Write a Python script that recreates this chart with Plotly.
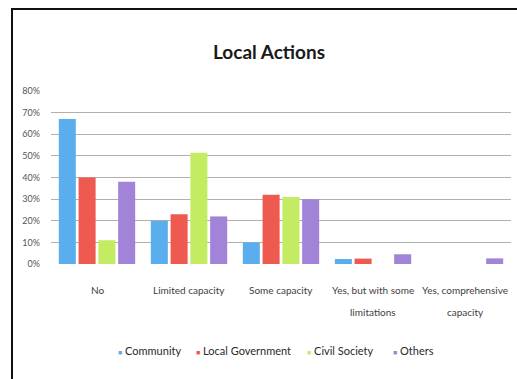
import plotly.graph_objects as go

# Survey responses by actor type
categories = ["No", "Limited capacity", "Some capacity",
              "Yes, but with some<br>limitations", "Yes, comprehensive<br>capacity"]
community = [0.67, 0.20, 0.10, 0.023, 0.0]
local_government = [0.40, 0.23, 0.32, 0.025, 0.0]
civil_society = [0.11, 0.515, 0.31, 0.0, 0.0]
others = [0.38, 0.22, 0.30, 0.045, 0.026]
y_ticks = [0, 0.1, 0.2, 0.3, 0.4, 0.5, 0.6, 0.7, 0.8]

series = [
    ("Community", community, "#5aaeee"),
    ("Local Government", local_government, "#ee5a50"),
    ("Civil Society", civil_society, "#c4ec62"),
    ("Others", others, "#a183d8"),
]

FONT = "Lato, Open Sans, sans-serif"

fig = go.Figure()
for name, vals, color in series:
    fig.add_trace(go.Bar(x=categories, y=vals, name=name, showlegend=False,
                         marker=dict(color=color, line=dict(width=0))))

W, H = 517, 379
L, R, T, B = 51, 6, 91, 115
pw, ph = W - L - R, H - T - B

def px_x(p):
    return (p - L) / pw

def px_y(p):
    return (H - B - p) / ph

fig.update_layout(
    width=W, height=H,
    margin=dict(l=L, r=R, t=T, b=B),
    paper_bgcolor="white", plot_bgcolor="white",
    barmode="group", bargap=0.14, bargroupgap=0.14,
    font=dict(family=FONT, color="#404040"),
    title=dict(text="<b>Local Actions</b>", x=269 / W, xanchor="center",
               y=1 - 52 / H, yanchor="middle",
               font=dict(family=FONT, size=19, color="#1a1a1a")),
    xaxis=dict(showgrid=False, showline=False, ticks="", showticklabels=False),
    yaxis=dict(range=[0, 0.8], tickvals=y_ticks, tickformat=".0%",
               showgrid=True, gridcolor="#b0b0b0", gridwidth=1.2,
               zeroline=False, showline=False,
               tickfont=dict(size=9, color="#555555"), ticklabelstandoff=10),
)

# Category labels, one line per text row, set well below the axis
for cat in categories:
    for i, line in enumerate(cat.split("<br>")):
        fig.add_annotation(x=cat, xref="x", y=px_y(290 + 22 * i), yref="paper",
                           text=line, showarrow=False, yanchor="middle",
                           font=dict(family=FONT, size=10, color="#404040"))

# Compact legend: small coloured square followed by the series name
legend_x = [116, 194, 305, 391]
for (name, _, color), lx in zip(series, legend_x):
    fig.add_annotation(
        x=px_x(lx), xref="paper", y=px_y(350), yref="paper",
        xanchor="left", yanchor="middle", showarrow=False,
        text=f"<span style='color:{color};font-size:7px'>■</span> {name}",
        font=dict(family=FONT, size=11, color="#2a2a2a"))

# Outer frame around the chart
fig.add_shape(type="rect", xref="paper", yref="paper",
              x0=px_x(12), x1=px_x(530), y0=px_y(390), y1=px_y(9),
              line=dict(color="#111111", width=2), layer="above")

fig.write_html("out.html")
